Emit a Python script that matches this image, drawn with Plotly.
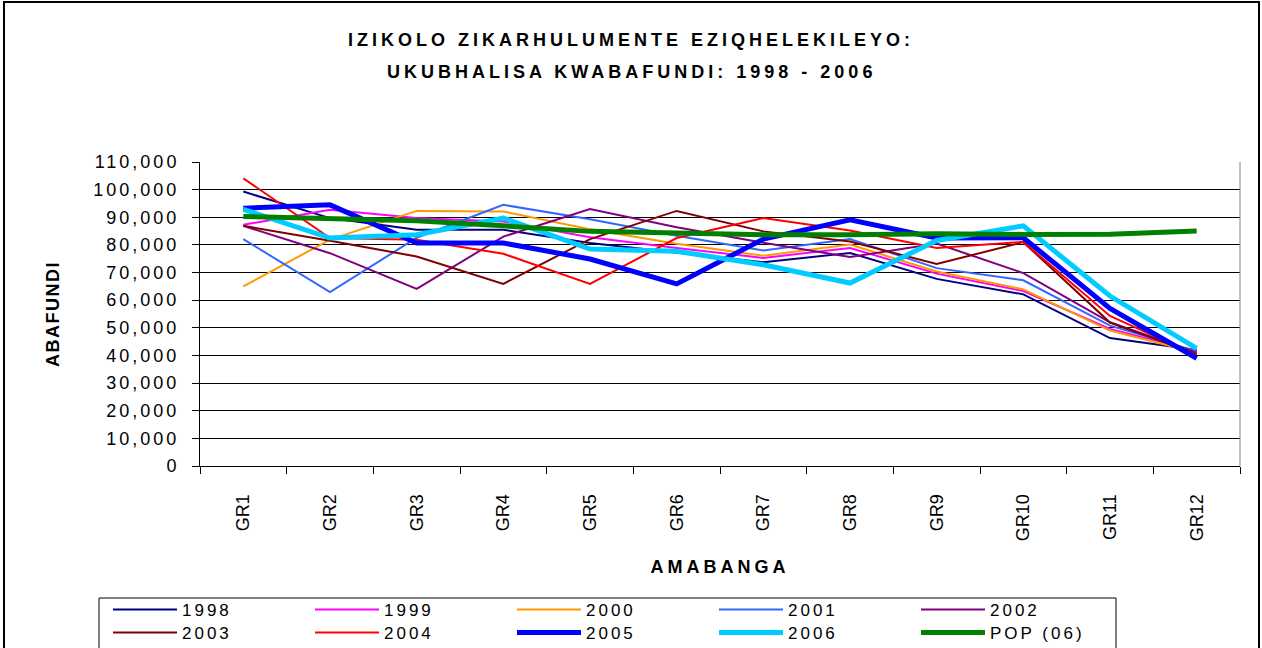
import plotly.graph_objects as go

GRADES = ["GR1", "GR2", "GR3", "GR4", "GR5", "GR6", "GR7", "GR8", "GR9", "GR10", "GR11", "GR12"]

Y1998 = [99300, 89700, 85500, 85500, 80700, 77100, 73700, 77100, 67700, 62100, 46300, 42000]
Y1999 = [87300, 92700, 89700, 88500, 82800, 78900, 75300, 78900, 69600, 63300, 49600, 41500]
Y2000 = [65000, 81900, 92300, 92100, 85700, 80400, 76100, 80100, 70400, 63900, 49000, 41000]
Y2001 = [82100, 62900, 82600, 94500, 89300, 83300, 78000, 82100, 71600, 67200, 50800, 41500]
Y2002 = [86900, 77000, 64100, 83000, 93000, 86400, 80800, 75600, 80500, 69800, 52000, 41000]
Y2003 = [86900, 81500, 75800, 65900, 82100, 92300, 84900, 81200, 73100, 81000, 51900, 40500]
Y2004 = [104100, 82500, 81900, 76800, 65900, 82500, 89700, 85200, 78900, 81100, 54300, 40000]
Y2005 = [93300, 94500, 80700, 80700, 74900, 65900, 82100, 89100, 82500, 82600, 57000, 39000]
Y2006 = [92900, 82500, 83700, 89700, 78500, 77700, 72800, 66200, 81600, 86900, 61500, 42600]
POP06 = [90300, 89400, 88700, 86900, 84900, 84300, 83700, 83700, 84000, 83800, 83900, 85000]

SERIES_NAMES = ["1998", "1999", "2000", "2001", "2002", "2003", "2004", "2005", "2006", "POP (06)"]
SERIES_VALUES = [Y1998, Y1999, Y2000, Y2001, Y2002, Y2003, Y2004, Y2005, Y2006, POP06]
SERIES_COLORS = ["#000080", "#FF00FF", "#FF9900", "#3366FF", "#800080",
                 "#800000", "#FF0000", "#0000FF", "#00CCFF", "#008000"]
SERIES_WIDTHS = [2, 2, 2, 2, 2, 2, 2, 5, 5, 5]

Y_TICK_VALUES = [0, 10000, 20000, 30000, 40000, 50000, 60000, 70000, 80000, 90000, 100000, 110000]
Y_TICK_LABELS = ["0", "10,000", "20,000", "30,000", "40,000", "50,000", "60,000",
                 "70,000", "80,000", "90,000", "100,000", "110,000"]

TITLE_1 = "IZIKOLO ZIKARHULUMENTE EZIQHELEKILEYO:"
TITLE_2 = "UKUBHALISA KWABAFUNDI: 1998 - 2006"
X_TITLE = "AMABANGA"
Y_TITLE = "ABAFUNDI"

FONT = "Liberation Sans, Arial, sans-serif"


def spaced(text, px):
    return f"<span style='letter-spacing:{px}px'>{text}</span>"


# plot-area geometry (pixels)
W, H = 1262, 648
L, R, T, B = 200, 1240, 162, 466
PW, PH = R - L, B - T


def px_x(x):
    return (x - L) / PW


def px_y(y):
    return (B - y) / PH


fig = go.Figure()
for i, (name, vals, col, lw) in enumerate(zip(SERIES_NAMES, SERIES_VALUES, SERIES_COLORS, SERIES_WIDTHS)):
    fig.add_trace(go.Scatter(
        x=GRADES, y=vals, mode="lines", name=spaced(name, 3),
        line=dict(color=col, width=lw),
        legend="legend" if i < 5 else "legend2",
    ))

legend_common = dict(
    orientation="h", xanchor="left", yanchor="middle",
    entrywidth=123, entrywidthmode="pixels", itemwidth=64,
    font=dict(family=FONT, size=17, color="#000000"),
    bgcolor="rgba(0,0,0,0)", borderwidth=0, tracegroupgap=0,
    traceorder="normal",
)

fig.update_layout(
    width=W, height=H,
    margin=dict(l=L, r=W - R, t=T, b=H - B, autoexpand=False),
    paper_bgcolor="#FFFFFF", plot_bgcolor="#FFFFFF",
    font=dict(family=FONT, size=17, color="#000000"),
    title=dict(text=spaced(TITLE_1, 4), x=0.5, xref="container", xanchor="center",
               y=1 - 40 / H, yref="container", yanchor="middle",
               font=dict(family=FONT, size=18, color="#000000", weight="bold")),
    showlegend=True,
    legend=dict(x=px_x(108), y=px_y(610), **legend_common),
    legend2=dict(x=px_x(108), y=px_y(633), **legend_common),
    xaxis=dict(
        type="category", categoryorder="array", categoryarray=GRADES,
        range=[-0.5, len(GRADES) - 0.5],
        showgrid=False, showline=True, linecolor="#000000", linewidth=1,
        ticks="outside", tickson="boundaries", ticklen=7, tickcolor="#000000",
        tickangle=-90, ticklabelstandoff=20,
        tickfont=dict(family=FONT, size=18, color="#000000"),
        title=dict(text=spaced(X_TITLE, 4), standoff=20,
                   font=dict(family=FONT, size=18, color="#000000", weight="bold")),
        automargin=False, zeroline=False,
    ),
    yaxis=dict(
        range=[0, 110000], tickvals=Y_TICK_VALUES,
        ticktext=[spaced(t, 3) for t in Y_TICK_LABELS],
        showgrid=True, gridcolor="#000000", gridwidth=1,
        showline=True, linecolor="#000000", linewidth=1,
        ticks="outside", ticklen=7, tickcolor="#000000",
        ticklabelstandoff=9,
        tickfont=dict(family=FONT, size=18, color="#000000"),
        title=dict(text=spaced(Y_TITLE, 1.5), standoff=29,
                   font=dict(family=FONT, size=18, color="#000000", weight="bold")),
        automargin=False, zeroline=False,
    ),
    annotations=[dict(
        text=spaced(TITLE_2, 4), xref="paper", yref="paper",
        x=px_x(631), y=px_y(72), xanchor="center", yanchor="middle", showarrow=False,
        font=dict(family=FONT, size=18, color="#000000", weight="bold"),
    )],
    shapes=[
        # outer chart border
        dict(type="rect", xref="paper", yref="paper",
             x0=px_x(4), x1=px_x(1259), y0=px_y(670), y1=px_y(2),
             line=dict(color="#000000", width=2), fillcolor="rgba(0,0,0,0)", layer="above"),
        # legend box
        dict(type="rect", xref="paper", yref="paper",
             x0=px_x(99), x1=px_x(1116), y0=px_y(670), y1=px_y(598),
             line=dict(color="#000000", width=1), fillcolor="rgba(0,0,0,0)", layer="above"),
        # right edge of plot area
        dict(type="line", xref="paper", yref="paper", x0=1, x1=1, y0=0, y1=1,
             line=dict(color="#808080", width=1)),
    ],
)

fig.write_html(
    "out.html",
    config={"displayModeBar": False},
    post_script="document.body.style.margin='0';document.body.style.overflow='hidden';",
)
